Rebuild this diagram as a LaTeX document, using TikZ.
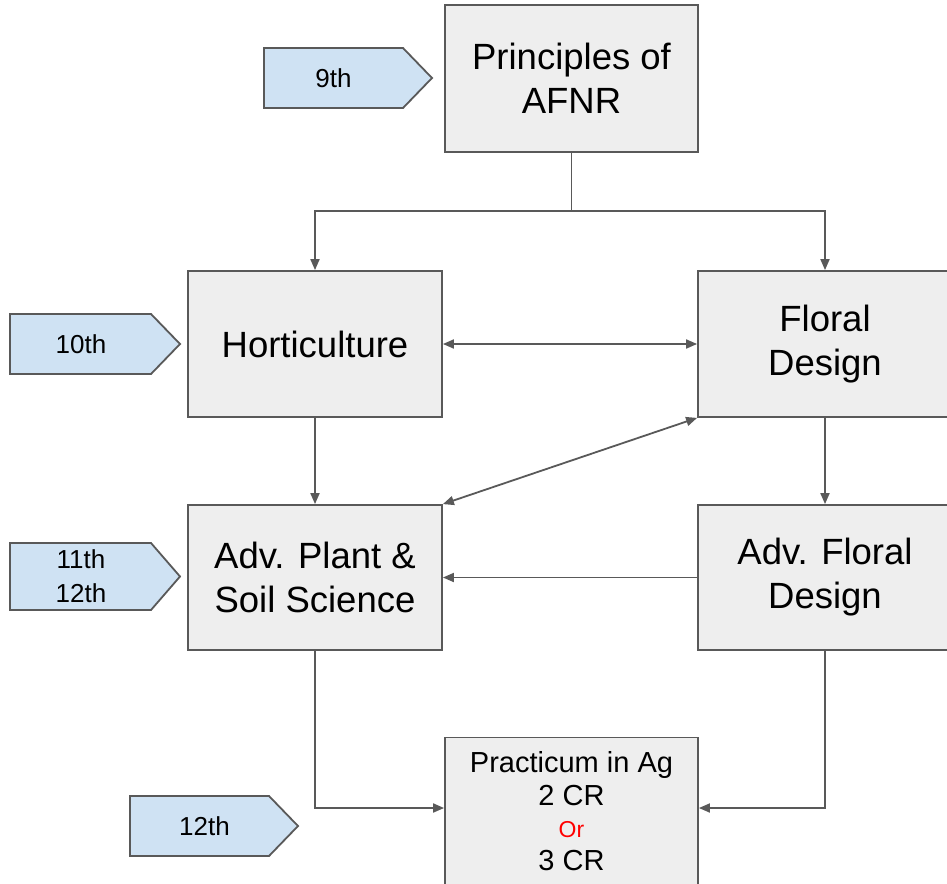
\documentclass[tikz,border=0pt]{standalone}
\usepackage{fontspec}
\setmainfont{Liberation Sans}
\usetikzlibrary{arrows.meta}
\definecolor{boxfill}{HTML}{EEEEEE}
\definecolor{edge}{HTML}{595959}
\definecolor{tagfill}{HTML}{CFE2F3}
\tikzset{
  course/.style={draw=edge, line width=1.8pt, fill=boxfill, rectangle, inner sep=0pt,
    align=center, font=\fontsize{36.5}{44}\selectfont, text=black},
  tagshape/.style={draw=edge, line width=1.8pt, fill=tagfill},
  tagtext/.style={inner sep=0pt, align=center, font=\fontsize{26}{34}\selectfont},
  link/.style={draw=edge, line width=1.8pt, -{Triangle[length=11pt,width=9pt]}},
  blink/.style={draw=edge, line width=1.8pt, {Triangle[length=11pt,width=9pt]}-{Triangle[length=11pt,width=9pt]}}
}
\newcommand{\gradetag}[4]{% left, top, right, bottom
  \draw[tagshape] (#1,#2) -- ({#3-29},#2) -- (#3,{(#2+#4)/2}) -- ({#3-29},#4) -- (#1,#4) -- cycle;
}
\begin{document}
\begin{tikzpicture}[x=1pt,y=-1pt]
\useasboundingbox (0,0) rectangle (947,883);
\node[course, minimum width=253pt, minimum height=147pt] (afnr) at (571.5,78.5) {Principles of\\AFNR};
\node[course, minimum width=254pt, minimum height=146pt] (hort) at (315,344) {Horticulture};
\node[course, minimum width=254pt, minimum height=146pt] (floral) at (825,344) {Floral\\Design};
\node[course, minimum width=254pt, minimum height=145pt] (plant) at (315,577.5) {Adv. Plant \&\\Soil Science};
\node[course, minimum width=254pt, minimum height=145pt] (advfloral) at (825,577.5) {Adv. Floral\\Design};
\node[course, minimum width=253pt, minimum height=147pt, font=\fontsize{29}{32.5}\selectfont] (prac) at (571.5,811)
  {Practicum in Ag\\2 CR\\{\fontsize{23}{24}\selectfont\color{red}Or}\\3 CR};

\gradetag{264}{48}{432}{108}
\node[tagtext] (g9) at (333.5,78) {9th};
\gradetag{10}{314}{180}{374}
\node[tagtext] (g10) at (81,344) {10th};
\gradetag{10}{543}{180}{610}
\node[tagtext] (g11) at (81,576.5) {11th\\12th};
\gradetag{130}{796}{298}{856}
\node[tagtext] (g12) at (204.5,826) {12th};

\coordinate (split) at (571.5,211);
\draw[edge, line width=1.8pt] (afnr.south) -- (split);
\draw[link] (split) -| (hort.north);
\draw[link] (split) -| (floral.north);
\draw[blink] (hort.east) -- (floral.west);
\draw[blink] (plant.north east) -- (floral.south west);
\draw[link] (hort.south) -- (plant.north);
\draw[link] (floral.south) -- (advfloral.north);
\draw[link] (advfloral.west) -- (plant.east);
\draw[link] (plant.south) |- (prac.west |- 0,808);
\draw[link] (advfloral.south) |- (prac.east |- 0,808);
\end{tikzpicture}
\end{document}
